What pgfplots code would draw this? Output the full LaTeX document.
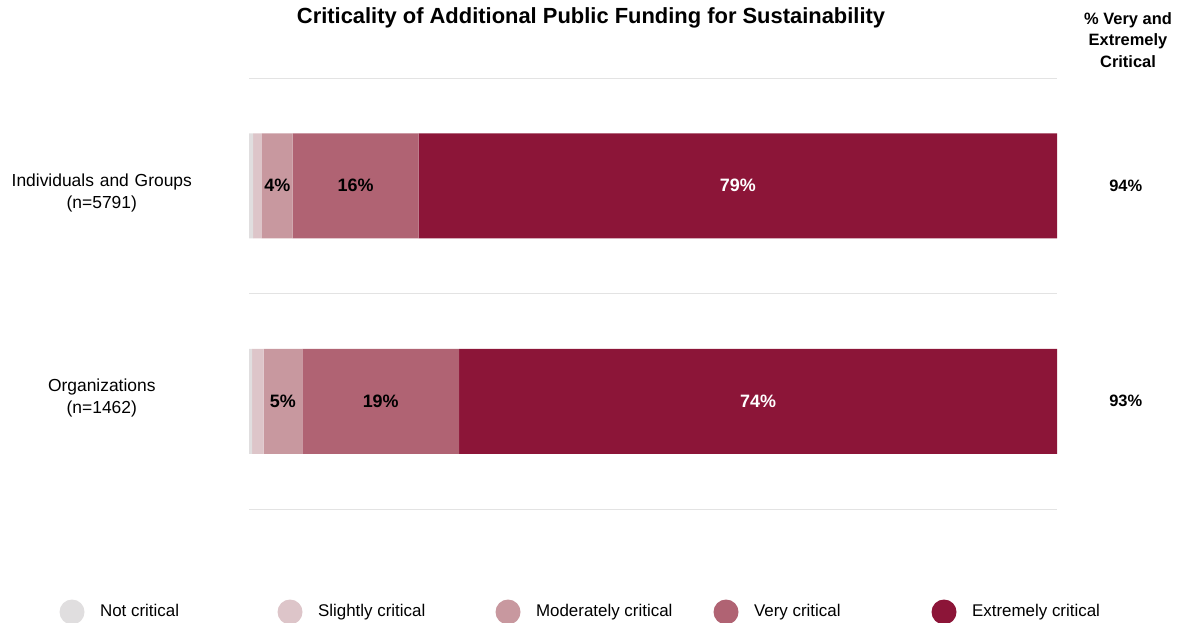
\documentclass[border=0pt]{standalone}
\usepackage{pgfplots}
\pgfplotsset{compat=1.18}
\usepackage{fontspec}
\setmainfont{Liberation Sans}
\definecolor{cnot}{HTML}{E0DEDF}
\definecolor{cslight}{HTML}{DDC5C9}
\definecolor{cmod}{HTML}{C8989F}
\definecolor{cvery}{HTML}{B06373}
\definecolor{cext}{HTML}{8C1538}
\definecolor{gridc}{HTML}{E3E3E3}
\begin{document}
\begin{tikzpicture}[x=1bp,y=1bp]
\useasboundingbox (0,0) rectangle (1179,-623);
\begin{axis}[
  at={(249bp,-509bp)}, anchor=south west,
  scale only axis, width=808bp, height=431bp,
  xbar stacked, bar width=105bp,
  xmin=0, xmax=100, ymin=-0.5, ymax=1.5,
  ytick={1},
  yticklabels={{Individuals and Groups\\(n=5791)}},
  extra y ticks={0},
  extra y tick labels={{Organizations\\(n=1462)}},
  extra y tick style={yticklabel style={yshift=10bp}},
  minor ytick={-0.5,0.5,1.5}, yminorgrids,
  minor grid style={draw=gridc, line width=0.8pt},
  xtick=\empty, axis line style={draw=none},
  major tick length=0pt, minor tick length=0pt,
  yticklabel style={font=\fontsize{17.5}{22}\selectfont, text width=190bp, align=center, inner sep=0pt, xshift=-52bp, yshift=-7bp},
  clip=false,
  legend columns=5,
  legend style={at={(-0.2345,-0.2390)}, anchor=west, draw=none, fill=none,
    inner sep=0pt, outer sep=0pt, column sep=0pt, row sep=0pt,
    nodes={inner sep=0pt, outer sep=0pt, font=\fontsize{17}{20}\selectfont}},
  legend cell align=left,
  legend image code/.code={\path[draw=none,fill=none] (0bp,-12.5bp) rectangle (40.5bp,12.5bp);\fill[#1,draw=none] (12.5bp,0bp) circle (12.5bp);},
]
\addplot[fill=cnot, draw=none] coordinates {(0.5,1) (0.4,0)};
\addlegendentry{\raisebox{1.5bp}{\makebox[177.5bp][l]{Not critical}}}
\addplot[fill=cslight, draw=none] coordinates {(1.1,1) (1.4,0)};
\addlegendentry{\raisebox{1.5bp}{\makebox[177.5bp][l]{Slightly critical}}}
\addplot[fill=cmod, draw=none] coordinates {(3.8,1) (4.8,0)};
\addlegendentry{\raisebox{1.5bp}{\makebox[177.5bp][l]{Moderately critical}}}
\addplot[fill=cvery, draw=none] coordinates {(15.6,1) (19.4,0)};
\addlegendentry{\raisebox{1.5bp}{\makebox[177.5bp][l]{Very critical}}}
\addplot[fill=cext, draw=none] coordinates {(79,1) (74,0)};
\addlegendentry{\raisebox{1.5bp}{\makebox[177.5bp][l]{Extremely critical}}}
\end{axis}
\begin{axis}[
  at={(249bp,-509bp)}, anchor=south west,
  scale only axis, width=808bp, height=431bp,
  xmin=0, xmax=100, ymin=-0.5, ymax=1.5,
  hide axis, clip=false,
]
\addplot[draw=none, mark=none, nodes near coords, point meta=explicit symbolic,
  nodes near coords style={anchor=center, text=black, font=\bfseries\fontsize{18}{21}\selectfont}]
  coordinates {(3.5,1)[4\%] (13.2,1)[16\%] (4.2,0)[5\%] (16.3,0)[19\%]};
\addplot[draw=none, mark=none, nodes near coords, point meta=explicit symbolic,
  nodes near coords style={anchor=center, text=white, font=\bfseries\fontsize{18}{21}\selectfont}]
  coordinates {(60.5,1)[79\%] (63,0)[74\%]};
\addplot[draw=none, mark=none, nodes near coords, point meta=explicit symbolic,
  nodes near coords style={anchor=center, text=black, font=\bfseries\fontsize{16.5}{20}\selectfont}]
  coordinates {(108.5,1)[94\%] (108.5,0)[93\%]};
\end{axis}
\node[font=\bfseries\fontsize{22}{26}\selectfont] at (591,-18) {Criticality of Additional Public Funding for Sustainability};
\node[font=\bfseries\fontsize{16.5}{21.5}\selectfont, align=center] at (1128,-40) {\% Very and\\Extremely\\Critical};
\end{tikzpicture}
\end{document}
